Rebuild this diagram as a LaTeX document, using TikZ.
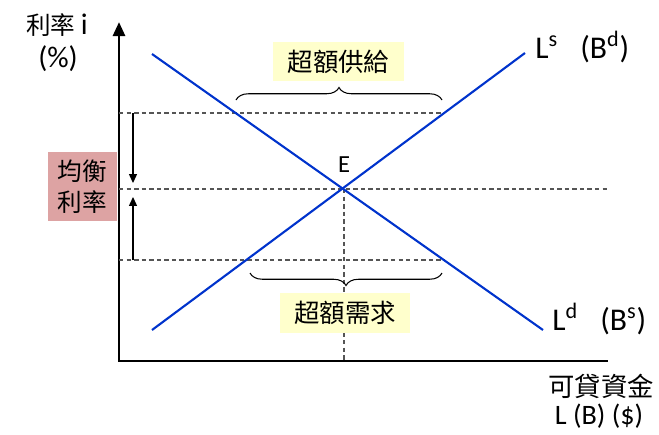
\documentclass[tikz,border=0pt]{standalone}
\usepackage{fontspec}
\setmainfont{Carlito}
\newfontfamily\cjk{Noto Sans CJK TC}
\usetikzlibrary{arrows.meta, positioning, decorations.pathreplacing}
\definecolor{LineBlue}{HTML}{0033CC}
\definecolor{RatePink}{HTML}{DDA3A3}
\definecolor{NoteYellow}{HTML}{FFFFCC}
\definecolor{GuideGray}{HTML}{555555}

\begin{document}
\begin{tikzpicture}[
    x=0.02cm, y=0.02cm,
    axis/.style={line width=1.7pt, black, line join=miter},
    curve/.style={line width=1.2pt, LineBlue},
    guide/.style={line width=0.6pt, GuideGray, dash pattern=on 2.5pt off 1.8pt},
    nudge/.style={line width=0.6pt, -{Triangle[width=4.5pt, length=5pt]}},
    note/.style={fill=NoteYellow, minimum width=2.62cm, minimum height=0.8cm, inner sep=0pt, font=\cjk\fontsize{14.5}{16}\selectfont},
    lbl/.style={anchor=base west, inner sep=0pt, font=\fontsize{18}{20}\selectfont},
    bracket/.style={decorate, decoration={brace, amplitude=0.25cm}, line width=0.6pt}
]
\useasboundingbox (0,0) rectangle (659,434);

% axes
\coordinate (origin) at (119,73);
\coordinate (ytop) at (119,412);
\coordinate (xend) at (608,73);
\draw[axis, {Triangle[width=6.8pt, length=8pt]}-] (ytop) -- (origin) -- (xend);

% rate guides
\coordinate (hiL) at (119,321);
\coordinate (hiR) at (445,321);
\coordinate (eqL) at (119,245);
\coordinate (eqR) at (608,245);
\coordinate (loL) at (119,174);
\coordinate (loR) at (445,174);
\coordinate (E) at (344,245);
\coordinate (Efoot) at (344,73);
\draw[guide] (hiL) -- (hiR);
\draw[guide] (eqL) -- (eqR);
\draw[guide] (loL) -- (loR);
\draw[guide] (E) -- (Efoot);

% supply and demand
\coordinate (ls0) at (152,104);
\coordinate (ls1) at (525,381);
\coordinate (ld0) at (152,380);
\coordinate (ld1) at (543,104);
\draw[curve] (ls0) -- (ls1);
\draw[curve] (ld0) -- (ld1);
\node[font=\fontsize{14}{16}\selectfont] (elabel) at (344,269) {E};

% adjustment arrows
\coordinate (dnA) at (133,321);
\coordinate (dnB) at (133,251);
\coordinate (upA) at (133,174);
\coordinate (upB) at (133,237);
\draw[nudge] (dnA) -- (dnB);
\draw[nudge] (upA) -- (upB);

% braces
\coordinate (tbL) at (236,334);
\coordinate (tbR) at (442,334);
\coordinate (bbL) at (250,161);
\coordinate (bbR) at (442,161);
\draw[bracket] (tbL) -- (tbR);
\draw[bracket] (bbR) -- (bbL);
\node[note] (surplus) at (338.5,372.5) {超額供給};
\node[note] (shortage) at (345,121.5) {超額需求};

% equilibrium tag
\node[fill=RatePink, minimum width=1.38cm, minimum height=1.38cm, inner sep=0pt, align=center,
      font=\cjk\fontsize{14}{17.6}\selectfont] (eqrate) at (82.5,247.5) {均衡\\利率};

% axis labels
\node[font=\fontsize{14}{16}\selectfont] (ylab) at (57,409) {{\cjk 利率} {\fontsize{17}{18}\selectfont i}};
\node[font=\fontsize{17}{18}\selectfont] (yunit) at (58,375) {(\%)};
\node[font=\cjk\fontsize{15}{17}\selectfont] (xlab) at (601,48) {可貸資金};
\node[font=\fontsize{16}{18}\selectfont] (xunit) at (599,18) {L (B) (\$)};

% curve labels
\node[lbl] (lslab) at (535,376) {L\textsuperscript{s}\hspace{0.7em}(B\textsuperscript{d})};
\node[lbl] (ldlab) at (552,104) {L\textsuperscript{d}\hspace{0.7em}(B\textsuperscript{s})};
\end{tikzpicture}
\end{document}
